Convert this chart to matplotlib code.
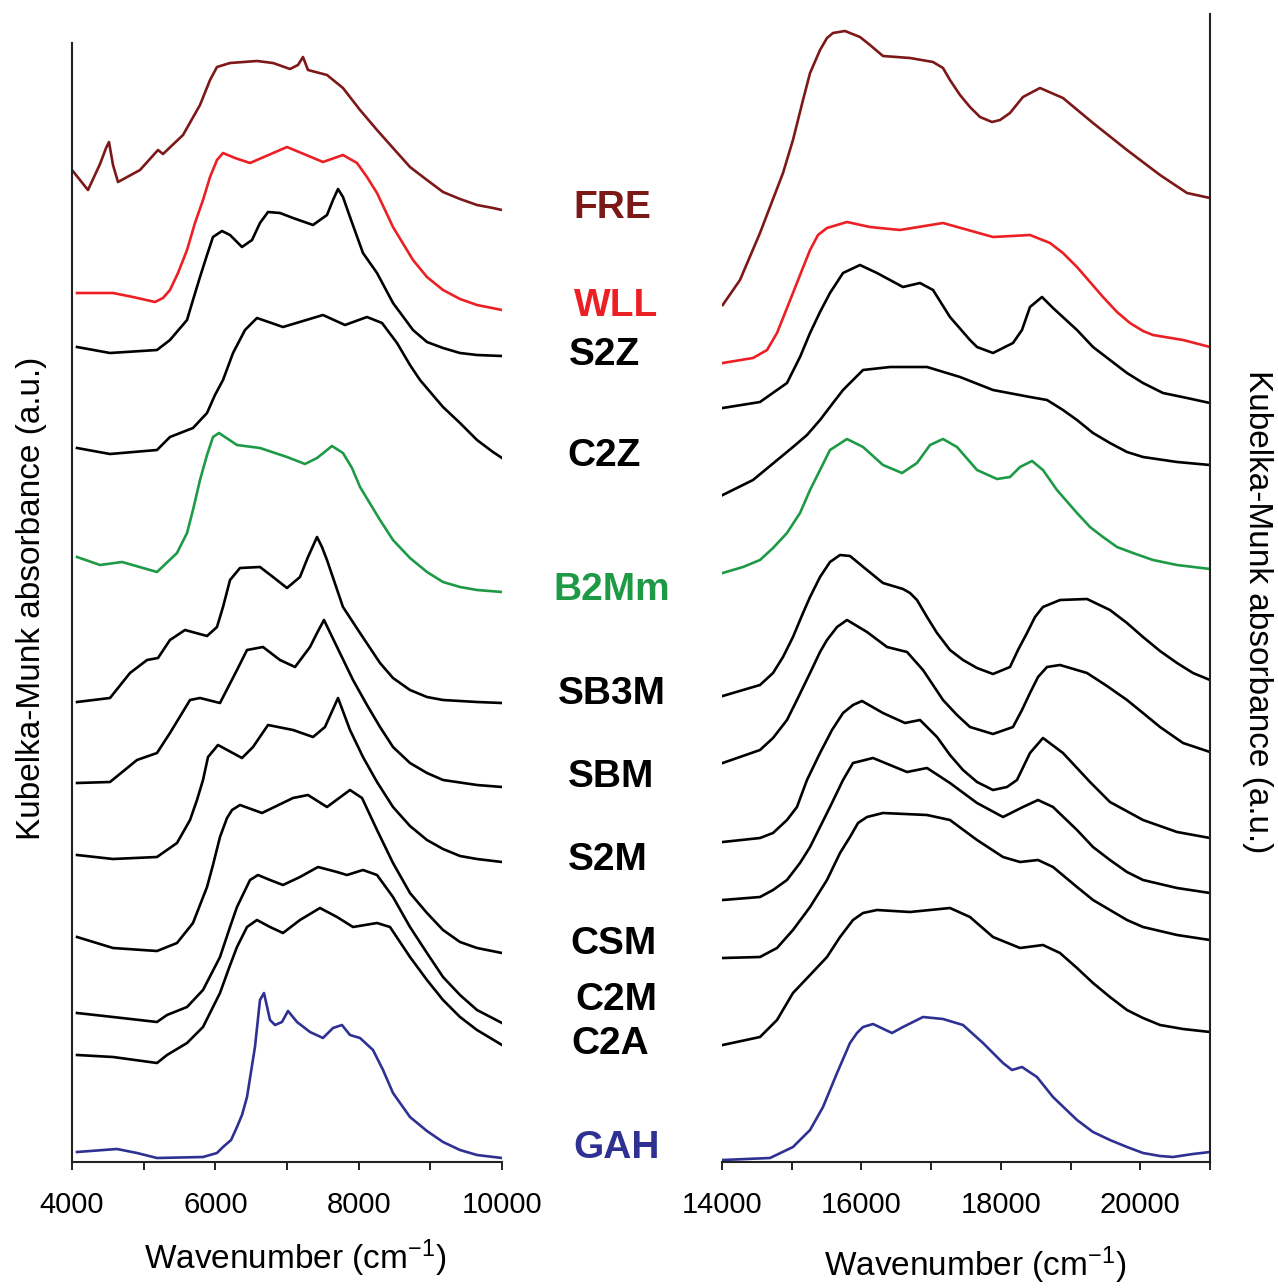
"""Spectres de réflectance diffuse (Kubelka-Munk) : proche IR et visible"""

# %% Import
import matplotlib
matplotlib.use('Agg')
import matplotlib.pyplot as plt

plt.rcParams['font.family'] = ['Liberation Sans', 'DejaVu Sans']
plt.rcParams['mathtext.default'] = 'regular'

# %% Spectres proche IR (4000 - 10000 cm-1), absorbance décalée (u.a.)

fre_ir_x = [4000, 4223, 4391, 4475, 4516, 4572, 4642, 4949, 5200, 5270, 5549, 5786, 5926, 6023,
            6205, 6581, 6805, 7042, 7153, 7223, 7293, 7558, 7781, 8019, 8256, 8479, 8716, 8953,
            9177, 9414, 9651, 9874, 10000]
fre_ir_y = [9.92, 9.72, 9.98, 10.14, 10.20, 9.97, 9.80, 9.92, 10.12, 10.08, 10.27, 10.57, 10.82,
            10.95, 10.99, 11.01, 10.99, 10.93, 10.97, 11.05, 10.92, 10.87, 10.74, 10.52, 10.32,
            10.14, 9.95, 9.82, 9.70, 9.63, 9.57, 9.54, 9.52]

wll_ir_x = [4070, 4572, 4851, 5158, 5270, 5367, 5479, 5605, 5716, 5828, 5926, 6023, 6107, 6274,
            6484, 7000, 7502, 7781, 7977, 8116, 8256, 8479, 8758, 8953, 9177, 9414, 9651, 10000]
wll_ir_y = [8.69, 8.69, 8.65, 8.60, 8.64, 8.72, 8.89, 9.12, 9.39, 9.62, 9.85, 10.02, 10.09, 10.04,
            9.99, 10.15, 10.00, 10.07, 9.99, 9.85, 9.69, 9.35, 9.02, 8.85, 8.72, 8.63, 8.57, 8.52]

s2z_ir_x = [4070, 4530, 5186, 5367, 5605, 5688, 5786, 5884, 5967, 6093, 6205, 6372, 6512, 6623,
            6735, 6902, 7084, 7363, 7558, 7642, 7712, 7781, 7879, 8060, 8256, 8479, 8758, 8953,
            9177, 9414, 9651, 10000]
s2z_ir_y = [8.15, 8.09, 8.12, 8.22, 8.42, 8.62, 8.85, 9.07, 9.25, 9.31, 9.27, 9.15, 9.22, 9.39,
            9.50, 9.49, 9.44, 9.37, 9.47, 9.62, 9.73, 9.65, 9.45, 9.09, 8.89, 8.59, 8.32, 8.20,
            8.14, 8.09, 8.07, 8.06]

c2z_ir_x = [4070, 4530, 5186, 5367, 5688, 5884, 5995, 6107, 6247, 6414, 6581, 6944, 7502, 7809,
            8116, 8326, 8535, 8716, 8856, 9093, 9177, 9414, 9651, 9874, 10000]
c2z_ir_y = [7.14, 7.08, 7.12, 7.25, 7.34, 7.49, 7.67, 7.82, 8.09, 8.32, 8.44, 8.35, 8.47, 8.37,
            8.45, 8.39, 8.19, 7.97, 7.82, 7.62, 7.55, 7.39, 7.22, 7.10, 7.04]

b2mm_ir_x = [4070, 4391, 4698, 5186, 5465, 5605, 5688, 5786, 5884, 5967, 6051, 6302, 6623, 7000,
             7251, 7419, 7628, 7781, 7907, 8019, 8298, 8479, 8716, 8953, 9177, 9414, 9651, 10000]
b2mm_ir_y = [6.05, 5.97, 6.00, 5.90, 6.09, 6.29, 6.52, 6.82, 7.07, 7.25, 7.29, 7.17, 7.14, 7.05,
             6.98, 7.04, 7.16, 7.09, 6.94, 6.75, 6.42, 6.22, 6.04, 5.90, 5.80, 5.75, 5.72, 5.70]

sb3m_ir_x = [4070, 4530, 4809, 5047, 5200, 5367, 5577, 5884, 6023, 6107, 6205, 6344, 6623, 6805,
             7000, 7181, 7293, 7419, 7488, 7558, 7781, 8019, 8298, 8479, 8716, 8953, 9177, 9651,
             10000]
sb3m_ir_y = [4.60, 4.64, 4.89, 5.02, 5.04, 5.22, 5.32, 5.26, 5.35, 5.55, 5.82, 5.94, 5.95, 5.85,
             5.74, 5.85, 6.05, 6.25, 6.15, 6.02, 5.55, 5.29, 4.99, 4.84, 4.72, 4.65, 4.62, 4.60,
             4.59]

sbm_ir_x = [4070, 4530, 4907, 5186, 5367, 5647, 5786, 6065, 6302, 6442, 6665, 6902, 7112, 7321,
            7419, 7516, 7698, 7921, 8116, 8298, 8479, 8716, 8953, 9177, 9651, 10000]
sbm_ir_y = [3.79, 3.80, 4.02, 4.09, 4.29, 4.62, 4.64, 4.59, 4.92, 5.12, 5.15, 5.02, 4.95, 5.15,
            5.29, 5.42, 5.15, 4.82, 4.57, 4.35, 4.15, 3.99, 3.89, 3.82, 3.77, 3.75]

s2m_ir_x = [4070, 4572, 5186, 5465, 5647, 5744, 5828, 5898, 6037, 6372, 6526, 6735, 7084, 7363,
            7530, 7712, 7879, 8060, 8256, 8479, 8716, 8953, 9177, 9414, 9651, 10000]
s2m_ir_y = [3.07, 3.03, 3.05, 3.19, 3.42, 3.62, 3.82, 4.05, 4.17, 4.04, 4.15, 4.37, 4.32, 4.25,
            4.35, 4.64, 4.32, 4.05, 3.80, 3.55, 3.36, 3.22, 3.13, 3.06, 3.03, 3.00]

csm_ir_x = [4070, 4572, 5186, 5465, 5688, 5884, 5967, 6065, 6163, 6233, 6344, 6651, 7084, 7293,
            7558, 7879, 8047, 8256, 8479, 8716, 8953, 9177, 9414, 9651, 10000]
csm_ir_y = [2.25, 2.14, 2.11, 2.19, 2.39, 2.75, 2.97, 3.25, 3.44, 3.52, 3.57, 3.49, 3.64, 3.67,
            3.55, 3.72, 3.64, 3.32, 2.99, 2.69, 2.49, 2.32, 2.20, 2.14, 2.09]

c2m_ir_x = [4070, 4572, 5186, 5326, 5605, 5828, 6065, 6205, 6302, 6484, 6595, 6763, 6944, 7181,
            7433, 7698, 7837, 8060, 8256, 8479, 8716, 8953, 9177, 9414, 9651, 10000]
c2m_ir_y = [1.49, 1.45, 1.40, 1.47, 1.55, 1.72, 2.05, 2.35, 2.55, 2.82, 2.87, 2.82, 2.77, 2.85,
            2.95, 2.90, 2.87, 2.92, 2.87, 2.65, 2.35, 2.09, 1.85, 1.67, 1.52, 1.39]

c2a_ir_x = [4070, 4572, 5186, 5326, 5605, 5828, 6065, 6191, 6302, 6442, 6581, 6763, 6944, 7181,
            7460, 7698, 7921, 8256, 8437, 8716, 8953, 9177, 9414, 9651, 10000]
c2a_ir_y = [1.07, 1.05, 0.99, 1.07, 1.19, 1.35, 1.69, 1.94, 2.15, 2.35, 2.42, 2.35, 2.29, 2.42,
            2.54, 2.45, 2.35, 2.39, 2.35, 2.05, 1.82, 1.62, 1.45, 1.32, 1.17]

gah_ir_x = [4070, 4628, 4907, 5186, 5828, 6023, 6107, 6220, 6302, 6372, 6442, 6553, 6623, 6679,
            6763, 6833, 6930, 7014, 7140, 7321, 7502, 7642, 7767, 7879, 8019, 8200, 8340, 8479,
            8716, 8953, 9177, 9414, 9651, 10000]
gah_ir_y = [0.10, 0.13, 0.09, 0.04, 0.05, 0.09, 0.15, 0.22, 0.35, 0.47, 0.65, 1.15, 1.62, 1.69,
            1.42, 1.37, 1.40, 1.51, 1.40, 1.30, 1.24, 1.34, 1.37, 1.27, 1.24, 1.12, 0.92, 0.69,
            0.45, 0.31, 0.20, 0.12, 0.07, 0.04]

# %% Spectres visibles (14000 - 21000 cm-1)

fre_vis_x = [14010, 14258, 14545, 14875, 15018, 15162, 15263, 15406, 15506, 15592, 15764, 15979,
             16123, 16309, 16697, 17027, 17170, 17270, 17414, 17557, 17701, 17873, 17988, 18131,
             18317, 18561, 18891, 19322, 19809, 20283, 20670, 21000]
fre_vis_y = [8.57, 8.82, 9.29, 9.89, 10.22, 10.62, 10.89, 11.12, 11.24, 11.29, 11.31, 11.25,
             11.17, 11.06, 11.04, 11.00, 10.94, 10.82, 10.67, 10.55, 10.45, 10.40, 10.42, 10.49,
             10.65, 10.74, 10.64, 10.39, 10.12, 9.87, 9.69, 9.64]

wll_vis_x = [14010, 14445, 14646, 14789, 15018, 15148, 15263, 15377, 15506, 15793, 16123, 16553,
             17170, 17887, 18418, 18705, 18891, 19092, 19279, 19465, 19666, 19852, 20039, 20182,
             20613, 21000]
wll_vis_y = [7.99, 8.04, 8.12, 8.29, 8.69, 8.92, 9.12, 9.27, 9.34, 9.40, 9.35, 9.32,
             9.39, 9.25, 9.27, 9.19, 9.09, 8.95, 8.80, 8.65, 8.50, 8.39, 8.31, 8.27, 8.22, 8.15]

s2z_vis_x = [14010, 14545, 14932, 15119, 15263, 15406, 15549, 15736, 15979, 16223, 16596, 16840,
             17027, 17270, 17557, 17658, 17887, 18174, 18303, 18418, 18590, 18748, 19092, 19322,
             19565, 19809, 20039, 20326, 20670, 21000]
s2z_vis_y = [7.54, 7.60, 7.79, 8.05, 8.29, 8.50, 8.69, 8.89, 8.97, 8.89, 8.75, 8.79,
             8.72, 8.45, 8.22, 8.15, 8.09, 8.19, 8.32, 8.55, 8.65, 8.54, 8.32, 8.15,
             8.02, 7.89, 7.79, 7.69, 7.64, 7.59]

c2z_vis_x = [14010, 14445, 15018, 15219, 15406, 15592, 15736, 15836, 16023, 16410, 16941, 17414,
             17887, 18418, 18662, 18891, 19092, 19322, 19565, 19809, 20039, 20527, 21000]
c2z_vis_y = [6.67, 6.82, 7.15, 7.27, 7.42, 7.59, 7.72, 7.79, 7.92, 7.95, 7.95, 7.85,
             7.72, 7.65, 7.62, 7.52, 7.42, 7.29, 7.19, 7.10, 7.05, 7.00, 6.97]

b2mm_vis_x = [14010, 14301, 14545, 14732, 14932, 15119, 15263, 15406, 15549, 15793, 16023, 16309,
              16582, 16797, 16984, 17170, 17371, 17658, 17945, 18131, 18275, 18447, 18604, 18805,
              19092, 19279, 19465, 19666, 19895, 20182, 20527, 21000]
b2mm_vis_y = [5.89, 5.95, 6.02, 6.14, 6.29, 6.49, 6.72, 6.92, 7.12, 7.23, 7.15, 6.97,
              6.89, 6.99, 7.17, 7.23, 7.15, 6.92, 6.83, 6.85, 6.95, 7.01, 6.92, 6.72,
              6.49, 6.35, 6.25, 6.15, 6.09, 6.02, 5.97, 5.93]

sb3m_vis_x = [14010, 14545, 14732, 14875, 15018, 15162, 15263, 15406, 15549, 15693, 15836, 16080,
              16309, 16596, 16697, 16797, 16941, 17084, 17270, 17457, 17658, 17887, 18131, 18246,
              18375, 18490, 18604, 18848, 19236, 19565, 19809, 20039, 20283, 20527, 20756, 21000]
sb3m_vis_y = [4.66, 4.77, 4.89, 5.05, 5.25, 5.49, 5.65, 5.85, 6.00, 6.07, 6.06, 5.92,
              5.79, 5.73, 5.69, 5.62, 5.45, 5.29, 5.12, 5.02, 4.94, 4.88, 4.95, 5.12,
              5.29, 5.45, 5.55, 5.62, 5.63, 5.52, 5.39, 5.25, 5.11, 4.99, 4.89, 4.82]

sbm_vis_x = [14010, 14545, 14732, 14932, 15075, 15263, 15406, 15506, 15650, 15793, 16080, 16367,
             16654, 16883, 17027, 17170, 17371, 17557, 17887, 18174, 18303, 18418, 18533, 18662,
             18848, 19236, 19522, 19809, 20039, 20283, 20613, 21000]
sbm_vis_y = [3.99, 4.12, 4.24, 4.42, 4.62, 4.89, 5.10, 5.22, 5.35, 5.42, 5.30, 5.15,
             5.10, 4.92, 4.77, 4.62, 4.47, 4.35, 4.28, 4.35, 4.52, 4.69, 4.85, 4.95,
             4.97, 4.89, 4.76, 4.62, 4.49, 4.35, 4.19, 4.10]

s2m_vis_x = [14010, 14545, 14732, 14932, 15075, 15219, 15406, 15578, 15736, 15879, 16008, 16309,
             16625, 16840, 17084, 17270, 17457, 17658, 17887, 18088, 18231, 18418, 18604, 18891,
             19279, 19565, 20039, 20527, 21000]
s2m_vis_y = [3.20, 3.24, 3.29, 3.42, 3.55, 3.82, 4.09, 4.32, 4.49, 4.57, 4.61, 4.49,
             4.39, 4.42, 4.25, 4.07, 3.92, 3.80, 3.72, 3.75, 3.82, 4.09, 4.24, 4.09,
             3.80, 3.60, 3.42, 3.30, 3.24]

csm_vis_x = [14010, 14545, 14732, 14932, 15119, 15263, 15406, 15549, 15736, 15879, 16166, 16654,
             16941, 17270, 17658, 18031, 18317, 18533, 18748, 19092, 19322, 19565, 19809, 20039,
             20527, 21000]
csm_vis_y = [2.62, 2.65, 2.72, 2.82, 2.99, 3.15, 3.35, 3.55, 3.82, 3.99, 4.04, 3.90,
             3.94, 3.79, 3.59, 3.45, 3.55, 3.62, 3.55, 3.32, 3.15, 3.02, 2.90, 2.82,
             2.74, 2.69]

c2m_vis_x = [14010, 14545, 14789, 15018, 15263, 15506, 15693, 15836, 15951, 16080, 16309, 16941,
             17270, 17658, 18031, 18275, 18533, 18748, 19092, 19322, 19565, 19809, 20039, 20527,
             21000]
c2m_vis_y = [2.04, 2.05, 2.14, 2.32, 2.55, 2.82, 3.09, 3.25, 3.39, 3.45, 3.49, 3.47,
             3.42, 3.22, 3.05, 3.00, 3.02, 2.95, 2.75, 2.62, 2.52, 2.42, 2.35, 2.27, 2.22]

c2a_vis_x = [14010, 14545, 14789, 15018, 15263, 15506, 15693, 15879, 16023, 16223, 16697, 17270,
             17557, 17887, 18275, 18604, 18848, 19092, 19322, 19565, 19809, 20039, 20283, 20613,
             21000]
c2a_vis_y = [1.17, 1.25, 1.42, 1.69, 1.87, 2.05, 2.25, 2.42, 2.49, 2.52, 2.50, 2.54,
             2.45, 2.25, 2.14, 2.17, 2.09, 1.94, 1.79, 1.65, 1.52, 1.44, 1.37, 1.33, 1.30]

gah_vis_x = [14010, 14689, 15018, 15263, 15449, 15650, 15836, 15936, 16023, 16166, 16438, 16596,
             16883, 17170, 17457, 17744, 18031, 18160, 18303, 18518, 18748, 19092, 19322, 19565,
             19809, 20039, 20283, 20469, 20756, 21000]
gah_vis_y = [0.02, 0.04, 0.15, 0.32, 0.55, 0.89, 1.19, 1.29, 1.35, 1.38, 1.29, 1.35,
             1.45, 1.43, 1.37, 1.19, 0.99, 0.92, 0.95, 0.85, 0.65, 0.42, 0.30, 0.22,
             0.15, 0.09, 0.06, 0.05, 0.08, 0.10]

# %% Noms et couleurs des échantillons

noms = ['FRE', 'WLL', 'S2Z', 'C2Z', 'B2Mm', 'SB3M', 'SBM', 'S2M', 'CSM', 'C2M', 'C2A', 'GAH']
couleurs = ['#7d1818', '#ec2024', 'black', 'black', '#1e9a46', 'black', 'black', 'black',
            'black', 'black', 'black', '#2e3192']

spectres_ir = [(fre_ir_x, fre_ir_y), (wll_ir_x, wll_ir_y), (s2z_ir_x, s2z_ir_y),
               (c2z_ir_x, c2z_ir_y), (b2mm_ir_x, b2mm_ir_y), (sb3m_ir_x, sb3m_ir_y),
               (sbm_ir_x, sbm_ir_y), (s2m_ir_x, s2m_ir_y), (csm_ir_x, csm_ir_y),
               (c2m_ir_x, c2m_ir_y), (c2a_ir_x, c2a_ir_y), (gah_ir_x, gah_ir_y)]
spectres_vis = [(fre_vis_x, fre_vis_y), (wll_vis_x, wll_vis_y), (s2z_vis_x, s2z_vis_y),
                (c2z_vis_x, c2z_vis_y), (b2mm_vis_x, b2mm_vis_y), (sb3m_vis_x, sb3m_vis_y),
                (sbm_vis_x, sbm_vis_y), (s2m_vis_x, s2m_vis_y), (csm_vis_x, csm_vis_y),
                (c2m_vis_x, c2m_vis_y), (c2a_vis_x, c2a_vis_y), (gah_vis_x, gah_vis_y)]

# position des étiquettes entre les deux panneaux (pixels de la figure)
etiq_x = [612, 616, 604, 604, 612, 612, 611, 608, 613, 616, 610, 617]
etiq_y = [208, 306, 355, 456, 590, 694, 777, 860, 944, 1000, 1044, 1148]

# %% Figure

W, H = 1278, 1288
fig = plt.figure(figsize=(W / 100, H / 100), dpi=100)
ax1 = fig.add_axes([72 / W, 126 / H, 430 / W, 1148 / H])
ax2 = fig.add_axes([722 / W, 126 / H, 488 / W, 1148 / H])

for (x, y), c in zip(spectres_ir, couleurs):
    ax1.plot(x, y, color=c, lw=1.9, solid_joinstyle='round')
for (x, y), c in zip(spectres_vis, couleurs):
    ax2.plot(x, y, color=c, lw=1.9, solid_joinstyle='round')

for ax in (ax1, ax2):
    ax.set_ylim(0, 11.48)
    ax.set_yticks([])
    ax.spines['top'].set_visible(False)
    for s in ax.spines.values():
        s.set_linewidth(1.5)
        s.set_color('#222222')
    ax.tick_params(axis='x', which='both', direction='out', length=6, width=1.4,
                   color='#222222', labelsize=21, pad=15)

ax1.set_xlim(4000, 10000)
ax1.set_xticks(range(4000, 10001, 2000))
ax1.set_xticks(range(5000, 10000, 2000), minor=True)
ax1.spines['right'].set_visible(False)
ax1.spines['left'].set_bounds(0, 11.19)

ax2.set_xlim(14000, 21000)
ax2.set_xticks(range(14000, 20001, 2000))
ax2.set_xticks(range(15000, 21001, 2000), minor=True)
ax2.spines['left'].set_visible(False)

for nom, c, px, py in zip(noms, couleurs, etiq_x, etiq_y):
    fig.text(px / W, 1 - py / H, nom, color=c, fontsize=28, fontweight='bold',
             ha='center', va='center')

fig.text(295 / W, 1 - 1258 / H, r'Wavenumber (cm$^{-1}$)', fontsize=24, ha='center', va='center')
fig.text(975 / W, 1 - 1265 / H, r'Wavenumber (cm$^{-1}$)', fontsize=24, ha='center', va='center')
fig.text(32 / W, 1 - 598 / H, 'Kubelka-Munk absorbance (a.u.)', fontsize=24, rotation=90,
         ha='center', va='center')
fig.text(1257 / W, 1 - 612 / H, 'Kubelka-Munk absorbance (a.u.)', fontsize=24, rotation=270,
         ha='center', va='center')

fig.savefig('out.png', dpi=100)
